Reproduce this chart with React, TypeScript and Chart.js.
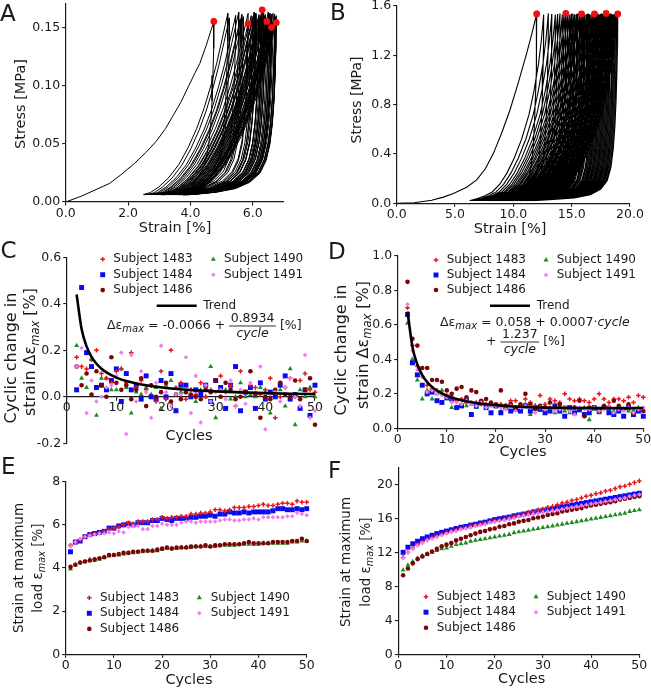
import React, { useEffect, useRef } from 'react';
import { Chart, registerables } from 'chart.js';

Chart.register(...registerables);

const W = 651;
const H = 689;
const FAM = '"DejaVu Sans", "Liberation Sans", sans-serif';
const INK = '#1a1a1a';

// ---------------- data ----------------
const cycles50 = [1, 2, 3, 4, 5, 6, 7, 8, 9, 10, 11, 12, 13, 14, 15, 16, 17, 18, 19, 20, 21, 22, 23, 24, 25, 26, 27, 28, 29, 30, 31, 32, 33, 34, 35, 36, 37, 38, 39, 40, 41, 42, 43, 44, 45, 46, 47, 48, 49, 50];
const cycles49 = [2, 3, 4, 5, 6, 7, 8, 9, 10, 11, 12, 13, 14, 15, 16, 17, 18, 19, 20, 21, 22, 23, 24, 25, 26, 27, 28, 29, 30, 31, 32, 33, 34, 35, 36, 37, 38, 39, 40, 41, 42, 43, 44, 45, 46, 47, 48, 49, 50];

// Panel C: cyclic change in strain
const c1483 = [0.17, 0.13, 0.12, 0.16, 0.20, 0.10, 0.08, 0.06, 0.11, 0.12, 0.06, 0.19, 0.04, 0.07, 0.03, 0.05, -0.02, 0.11, -0.01, 0.20, 0.04, 0.06, -0.01, 0.03, 0.01, 0.06, 0.00, 0.03, 0.07, 0.09, 0.02, 0.05, -0.04, 0.11, 0.02, 0.05, 0.04, 0.01, 0.03, 0.08, -0.09, 0.00, 0.04, 0.08, 0.00, 0.07, 0.10, 0.03, 0.02];
const c1484 = [0.03, 0.47, 0.19, 0.13, 0.04, 0.05, 0.03, 0.07, 0.12, -0.02, 0.10, 0.03, 0.05, -0.01, 0.09, 0.00, -0.01, 0.07, 0.00, 0.10, -0.06, 0.05, 0.05, 0.00, 0.03, 0.01, 0.05, -0.02, 0.07, 0.04, -0.05, 0.05, 0.13, -0.06, 0.02, 0.04, -0.05, 0.06, -0.01, 0.02, 0.00, 0.05, 0.09, -0.01, 0.01, -0.05, 0.03, -0.08, 0.05];
const c1486 = [0.13, 0.05, 0.10, 0.01, 0.11, 0.05, 0.00, 0.17, 0.06, 0.03, 0.05, -0.01, 0.03, 0.08, -0.04, 0.05, 0.00, 0.02, 0.06, -0.02, 0.01, -0.01, 0.02, 0.01, 0.00, -0.01, 0.03, 0.02, 0.07, 0.00, 0.06, 0.03, -0.01, 0.00, 0.02, 0.11, 0.01, -0.09, 0.00, -0.01, 0.03, 0.06, 0.01, 0.00, 0.07, -0.01, 0.03, 0.08, -0.12];
const c1490 = [0.22, 0.08, 0.04, 0.16, -0.08, 0.08, 0.08, 0.03, 0.03, 0.12, 0.04, -0.07, 0.02, 0.01, 0.04, 0.01, 0.04, -0.05, 0.05, 0.07, -0.06, 0.02, 0.02, 0.03, -0.02, 0.03, 0.00, 0.13, -0.09, 0.00, 0.03, -0.01, 0.00, 0.06, 0.00, 0.01, 0.00, 0.04, 0.02, -0.07, 0.02, 0.03, -0.04, 0.12, -0.12, 0.03, 0.00, 0.04, 0.00];
const c1491 = [0.13, 0.21, -0.07, 0.07, -0.02, 0.00, 0.04, 0.05, 0.09, 0.19, -0.16, 0.18, -0.02, 0.11, 0.02, -0.09, 0.06, 0.22, 0.02, -0.04, 0.01, 0.01, 0.17, -0.07, 0.09, -0.11, 0.05, -0.02, 0.02, 0.03, -0.01, 0.07, -0.04, 0.03, -0.03, 0.06, 0.02, 0.13, -0.14, 0.01, 0.02, -0.02, 0.04, 0.08, 0.00, -0.04, 0.18, -0.09, -0.06];
const cTrendX = [2, 3, 4, 5, 6, 7, 8, 10, 12, 15, 20, 25, 30, 35, 40, 45, 50];
const cTrendY = [0.4401, 0.2912, 0.2168, 0.1721, 0.1423, 0.1210, 0.1051, 0.0827, 0.0679, 0.0530, 0.0381, 0.0291, 0.0232, 0.0189, 0.0157, 0.0133, 0.0113];

// Panel D
const d1483 = [0.70, 0.48, 0.36, 0.30, 0.25, 0.23, 0.22, 0.20, 0.19, 0.17, 0.16, 0.17, 0.15, 0.15, 0.15, 0.14, 0.14, 0.14, 0.13, 0.14, 0.13, 0.16, 0.16, 0.13, 0.17, 0.15, 0.13, 0.19, 0.14, 0.17, 0.16, 0.15, 0.20, 0.17, 0.16, 0.17, 0.16, 0.15, 0.17, 0.20, 0.17, 0.15, 0.17, 0.17, 0.16, 0.18, 0.15, 0.19, 0.18];
const d1484 = [0.66, 0.38, 0.31, 0.25, 0.20, 0.21, 0.16, 0.15, 0.18, 0.17, 0.12, 0.13, 0.16, 0.08, 0.13, 0.15, 0.12, 0.09, 0.13, 0.09, 0.12, 0.10, 0.11, 0.10, 0.13, 0.10, 0.12, 0.11, 0.09, 0.10, 0.13, 0.10, 0.07, 0.12, 0.09, 0.11, 0.08, 0.09, 0.12, 0.10, 0.12, 0.09, 0.08, 0.10, 0.07, 0.12, 0.08, 0.10, 0.07];
const d1486 = [0.85, 0.52, 0.48, 0.35, 0.35, 0.28, 0.28, 0.27, 0.22, 0.20, 0.23, 0.24, 0.18, 0.22, 0.21, 0.16, 0.17, 0.15, 0.14, 0.22, 0.13, 0.14, 0.12, 0.14, 0.20, 0.14, 0.11, 0.13, 0.12, 0.15, 0.12, 0.14, 0.12, 0.11, 0.12, 0.16, 0.07, 0.12, 0.12, 0.10, 0.13, 0.12, 0.16, 0.13, 0.11, 0.14, 0.09, 0.11, 0.10];
const d1490 = [0.61, 0.40, 0.28, 0.17, 0.22, 0.17, 0.20, 0.22, 0.17, 0.12, 0.12, 0.14, 0.13, 0.14, 0.12, 0.14, 0.14, 0.13, 0.13, 0.10, 0.13, 0.15, 0.12, 0.11, 0.14, 0.08, 0.13, 0.11, 0.12, 0.12, 0.09, 0.13, 0.10, 0.09, 0.12, 0.10, 0.12, 0.05, 0.11, 0.09, 0.12, 0.11, 0.10, 0.12, 0.11, 0.10, 0.11, 0.12, 0.10];
const d1491 = [0.72, 0.45, 0.34, 0.30, 0.21, 0.22, 0.20, 0.19, 0.18, 0.15, 0.15, 0.14, 0.16, 0.14, 0.13, 0.15, 0.12, 0.13, 0.13, 0.12, 0.11, 0.13, 0.10, 0.12, 0.13, 0.12, 0.09, 0.12, 0.11, 0.12, 0.10, 0.11, 0.12, 0.10, 0.08, 0.12, 0.11, 0.11, 0.12, 0.10, 0.11, 0.12, 0.09, 0.11, 0.10, 0.12, 0.09, 0.11, 0.12];
const dTrendX = [2, 3, 4, 5, 6, 7, 8, 10, 12, 15, 20, 25, 30, 35, 40, 45, 50];
const dTrendY = [0.6779, 0.4724, 0.3701, 0.3089, 0.2684, 0.2396, 0.2182, 0.1887, 0.1695, 0.1510, 0.1339, 0.1250, 0.1202, 0.1178, 0.1169, 0.1170, 0.1177];

// Panel E: strain at maximum load
const e1483 = [5.05, 5.2, 5.3, 5.45, 5.55, 5.6, 5.65, 5.7, 5.8, 5.85, 5.9, 6.0, 6.1, 6.05, 6.15, 6.15, 6.15, 6.25, 6.25, 6.35, 6.3, 6.35, 6.35, 6.4, 6.4, 6.5, 6.5, 6.55, 6.55, 6.6, 6.7, 6.7, 6.65, 6.7, 6.8, 6.8, 6.8, 6.85, 6.85, 6.9, 6.95, 6.9, 6.9, 6.95, 7.0, 7.0, 6.95, 7.1, 7.05, 7.05];
const e1484 = [4.75, 5.2, 5.25, 5.45, 5.55, 5.6, 5.65, 5.7, 5.85, 5.85, 5.95, 6.0, 6.05, 6.0, 6.1, 6.1, 6.1, 6.2, 6.2, 6.3, 6.25, 6.2, 6.3, 6.3, 6.3, 6.35, 6.35, 6.4, 6.4, 6.45, 6.4, 6.5, 6.5, 6.6, 6.55, 6.55, 6.6, 6.55, 6.6, 6.6, 6.6, 6.6, 6.65, 6.75, 6.75, 6.7, 6.7, 6.75, 6.7, 6.75];
const e1486 = [4.05, 4.15, 4.25, 4.3, 4.35, 4.4, 4.45, 4.5, 4.6, 4.6, 4.65, 4.7, 4.7, 4.75, 4.75, 4.8, 4.8, 4.8, 4.85, 4.9, 4.95, 4.9, 4.95, 4.95, 4.95, 5.0, 5.0, 5.0, 5.05, 5.0, 5.05, 5.05, 5.1, 5.1, 5.1, 5.1, 5.15, 5.2, 5.15, 5.15, 5.15, 5.15, 5.2, 5.2, 5.2, 5.2, 5.25, 5.25, 5.35, 5.25];
const e1490 = [3.95, 4.15, 4.25, 4.3, 4.4, 4.35, 4.4, 4.5, 4.55, 4.6, 4.6, 4.65, 4.7, 4.7, 4.75, 4.75, 4.8, 4.8, 4.8, 4.85, 4.9, 4.9, 4.9, 4.95, 4.95, 4.95, 5.0, 5.0, 5.0, 5.0, 5.0, 5.05, 5.05, 5.05, 5.05, 5.1, 5.1, 5.1, 5.1, 5.1, 5.15, 5.15, 5.15, 5.15, 5.15, 5.15, 5.2, 5.2, 5.25, 5.25];
const e1491 = [5.0, 5.2, 5.35, 5.45, 5.5, 5.55, 5.6, 5.6, 5.65, 5.6, 5.7, 5.65, 5.9, 5.95, 5.95, 5.8, 5.8, 5.95, 5.95, 6.05, 6.0, 6.0, 6.0, 6.1, 6.15, 6.15, 6.1, 6.15, 6.15, 6.15, 6.15, 6.2, 6.25, 6.25, 6.2, 6.2, 6.25, 6.25, 6.3, 6.25, 6.35, 6.35, 6.35, 6.35, 6.35, 6.4, 6.4, 6.55, 6.5, 6.45];

// Panel F
const f1483 = [11.4, 12.0, 12.5, 12.9, 13.2, 13.5, 13.7, 13.9, 14.1, 14.3, 14.5, 14.6, 14.8, 14.9, 15.1, 15.2, 15.3, 15.4, 15.6, 15.7, 15.8, 15.9, 16.1, 16.2, 16.3, 16.5, 16.7, 16.8, 17.0, 17.1, 17.3, 17.4, 17.6, 17.8, 17.9, 18.1, 18.2, 18.4, 18.6, 18.7, 18.9, 19.0, 19.2, 19.3, 19.5, 19.7, 19.8, 20.0, 20.2, 20.4];
const f1484 = [12.0, 12.6, 13.0, 13.3, 13.6, 13.8, 14.0, 14.2, 14.35, 14.5, 14.65, 14.8, 14.95, 15.05, 15.2, 15.3, 15.45, 15.55, 15.7, 15.85, 15.95, 16.05, 16.15, 16.3, 16.4, 16.5, 16.6, 16.75, 16.85, 16.95, 17.05, 17.15, 17.25, 17.35, 17.45, 17.55, 17.65, 17.75, 17.85, 17.95, 18.05, 18.15, 18.25, 18.35, 18.45, 18.55, 18.65, 18.75, 18.85, 18.95];
const f1486 = [9.3, 10.1, 10.7, 11.2, 11.5, 11.8, 12.1, 12.4, 12.7, 12.9, 13.1, 13.4, 13.6, 13.8, 14.0, 14.2, 14.4, 14.5, 14.7, 14.8, 15.0, 15.1, 15.3, 15.4, 15.6, 15.7, 15.8, 16.0, 16.1, 16.2, 16.4, 16.5, 16.6, 16.8, 16.9, 17.0, 17.1, 17.2, 17.4, 17.5, 17.6, 17.7, 17.8, 17.9, 18.0, 18.2, 18.3, 18.4, 18.5, 18.6];
const f1490 = [9.9, 10.5, 10.9, 11.3, 11.6, 11.8, 12.0, 12.2, 12.4, 12.5, 12.7, 12.9, 13.0, 13.1, 13.3, 13.4, 13.5, 13.6, 13.7, 13.8, 13.9, 14.0, 14.1, 14.3, 14.4, 14.5, 14.6, 14.7, 14.8, 14.9, 15.0, 15.1, 15.2, 15.3, 15.4, 15.5, 15.6, 15.7, 15.8, 15.9, 16.0, 16.1, 16.2, 16.3, 16.4, 16.5, 16.6, 16.8, 16.9, 17.0];
const f1491 = [11.3, 12.0, 12.4, 12.8, 13.1, 13.4, 13.6, 13.8, 14.0, 14.2, 14.4, 14.5, 14.7, 14.8, 14.9, 15.1, 15.2, 15.3, 15.5, 15.6, 15.7, 15.8, 15.9, 16.0, 16.2, 16.3, 16.4, 16.5, 16.6, 16.7, 16.8, 16.9, 17.0, 17.1, 17.2, 17.3, 17.4, 17.5, 17.6, 17.7, 17.8, 17.9, 18.0, 18.1, 18.2, 18.3, 18.4, 18.6, 18.7, 18.8];

// Panel A: stress-strain loops (subject 1484, peaks = e1484)
const aFirstStrain = [0, 0.5, 1.0, 1.41, 1.8, 2.2, 2.59, 2.9, 3.2, 3.44, 3.7, 3.95, 4.15, 4.3, 4.5, 4.75];
const aFirstStress = [0, 0.005, 0.011, 0.016, 0.024, 0.033, 0.043, 0.052, 0.063, 0.074, 0.086, 0.1, 0.111, 0.119, 0.134, 0.155];
const aPeakStress = [0.155, 0.162, 0.158, 0.160, 0.163, 0.157, 0.161, 0.159, 0.162, 0.153, 0.160, 0.158, 0.163, 0.159, 0.161, 0.157, 0.162, 0.160, 0.158, 0.165, 0.159, 0.161, 0.157, 0.163, 0.160, 0.158, 0.162, 0.159, 0.161, 0.155, 0.160, 0.163, 0.158, 0.161, 0.159, 0.162, 0.157, 0.160, 0.158, 0.150, 0.161, 0.159, 0.162, 0.158, 0.160, 0.157, 0.161, 0.159, 0.160, 0.154];
const aBottom = [2.50, 2.62, 2.72, 2.80, 2.86, 2.92, 2.97, 3.02, 3.07, 3.10, 3.14, 3.18, 3.22, 3.24, 3.28, 3.30, 3.32, 3.36, 3.38, 3.42, 3.43, 3.44, 3.48, 3.50, 3.52, 3.55, 3.56, 3.59, 3.60, 3.63, 3.63, 3.66, 3.68, 3.71, 3.71, 3.72, 3.75, 3.75, 3.77, 3.78, 3.79, 3.80, 3.82, 3.86, 3.87, 3.86, 3.87, 3.90, 3.89, 3.92];
const aLoadU = [0, 0.08, 0.18, 0.3, 0.42, 0.53, 0.63, 0.72, 0.8, 0.87, 0.93, 0.97, 1];
const aLoadV = [0.04, 0.05, 0.08, 0.13, 0.2, 0.29, 0.39, 0.5, 0.62, 0.74, 0.86, 0.94, 1];
const aUnloadU = [1, 0.996, 0.987, 0.975, 0.955, 0.928, 0.885, 0.815, 0.7, 0.54, 0.33, 0.13, 0];
const aUnloadV = [1, 0.85, 0.7, 0.56, 0.43, 0.32, 0.23, 0.16, 0.11, 0.075, 0.055, 0.045, 0.04];

// Panel B: stress-strain loops (subject 1484, peaks = f1484)
const bFirstStrain = [0, 1.5, 3.0, 4.0, 4.86, 6.0, 6.86, 7.6, 8.29, 9.0, 9.71, 10.4, 11.14, 11.6, 12.0];
const bFirstStress = [0, 0.005, 0.025, 0.05, 0.08, 0.13, 0.19, 0.28, 0.405, 0.57, 0.757, 0.97, 1.216, 1.38, 1.535];
const bPeakStress = [1.535, 1.53, 1.54, 1.535, 1.53, 1.535, 1.54, 1.53, 1.535, 1.54, 1.535, 1.53, 1.535, 1.54, 1.535, 1.53, 1.535, 1.54, 1.53, 1.535, 1.54, 1.535, 1.53, 1.535, 1.54, 1.535, 1.53, 1.535, 1.54, 1.535, 1.53, 1.535, 1.54, 1.53, 1.535, 1.54, 1.535, 1.53, 1.535, 1.54, 1.535, 1.53, 1.535, 1.54, 1.535, 1.53, 1.535, 1.54, 1.53, 1.535];
const bBottom = [6.3, 6.6, 6.85, 7.05, 7.25, 7.4, 7.55, 7.7, 7.85, 7.95, 8.1, 8.2, 8.35, 8.45, 8.55, 8.65, 8.75, 8.85, 8.95, 9.05, 9.15, 9.25, 9.35, 9.45, 9.55, 9.65, 9.75, 9.85, 9.95, 10.05, 10.15, 10.25, 10.35, 10.45, 10.55, 10.65, 10.75, 10.85, 10.95, 11.05, 11.15, 11.25, 11.35, 11.45, 11.55, 11.65, 11.75, 11.85, 11.95, 12.05];
const bLoadU = [0, 0.1, 0.2, 0.3, 0.4, 0.5, 0.6, 0.7, 0.8, 0.87, 0.93, 0.97, 1];
const bLoadV = [0.015, 0.025, 0.04, 0.06, 0.1, 0.16, 0.24, 0.34, 0.47, 0.6, 0.74, 0.87, 1];
const bUnloadU = [1, 0.997, 0.99, 0.98, 0.965, 0.945, 0.915, 0.87, 0.79, 0.66, 0.46, 0.2, 0];
const bUnloadV = [1, 0.85, 0.7, 0.55, 0.41, 0.29, 0.19, 0.12, 0.075, 0.045, 0.028, 0.02, 0.015];

const markedCycles = [1, 10, 20, 30, 40, 50];

// ---------------- styles ----------------
type Marker = { style: string; radius: number; color: string; bw: number };
const M1483: Marker = { style: 'cross', radius: 2.3, color: '#e8161c', bw: 1.5 };
const M1484: Marker = { style: 'rect', radius: 3.5, color: '#0a0af0', bw: 0 };
const M1486: Marker = { style: 'circle', radius: 2.3, color: '#7a0505', bw: 0 };
const M1490: Marker = { style: 'triangle', radius: 2.9, color: '#1f8a1f', bw: 0 };
const M1491: Marker = { style: 'rectRot', radius: 2.3, color: '#f07cf0', bw: 0 };

const LEG_SIZE = 12;
const EQ_SIZE = 12.5;

type Area = { l: number; t: number; r: number; b: number };
type AxisSpec = { min: number; max: number; step: number; dec: number; atZero?: boolean };
type Seg = { t: string; it?: boolean; sub?: boolean };

function drawMarker(ctx: CanvasRenderingContext2D, m: Marker, x: number, y: number) {
  ctx.save();
  ctx.fillStyle = m.color;
  ctx.strokeStyle = m.color;
  const r = m.radius;
  ctx.beginPath();
  if (m.style === 'cross') {
    ctx.lineWidth = m.bw;
    ctx.moveTo(x - r, y); ctx.lineTo(x + r, y);
    ctx.moveTo(x, y - r); ctx.lineTo(x, y + r);
    ctx.stroke();
  } else if (m.style === 'rect') {
    const s = r * Math.SQRT1_2;
    ctx.fillRect(x - s, y - s, 2 * s, 2 * s);
  } else if (m.style === 'circle') {
    ctx.arc(x, y, r, 0, Math.PI * 2); ctx.fill();
  } else if (m.style === 'triangle') {
    ctx.moveTo(x, y - r); ctx.lineTo(x + r * 0.866, y + r * 0.5); ctx.lineTo(x - r * 0.866, y + r * 0.5);
    ctx.closePath(); ctx.fill();
  } else {
    ctx.moveTo(x, y - r); ctx.lineTo(x + r, y); ctx.lineTo(x, y + r); ctx.lineTo(x - r, y);
    ctx.closePath(); ctx.fill();
  }
  ctx.restore();
}

function segFont(s: Seg, size: number, subScale: number) {
  return `${s.it ? 'italic ' : ''}${s.sub ? size * subScale : size}px ${FAM}`;
}
function richWidth(ctx: CanvasRenderingContext2D, segs: Seg[], size: number, subScale: number) {
  let w = 0;
  for (const s of segs) { ctx.font = segFont(s, size, subScale); w += ctx.measureText(s.t).width; }
  return w;
}
function rich(ctx: CanvasRenderingContext2D, segs: Seg[], x: number, y: number, size: number, align = 'center', rot = 0, subScale = 0.72) {
  ctx.save();
  ctx.translate(x, y);
  if (rot) ctx.rotate(rot);
  const total = richWidth(ctx, segs, size, subScale);
  let cx = align === 'center' ? -total / 2 : align === 'right' ? -total : 0;
  ctx.fillStyle = INK;
  ctx.textBaseline = 'middle';
  ctx.textAlign = 'left';
  for (const s of segs) {
    ctx.font = segFont(s, size, subScale);
    ctx.fillText(s.t, cx, s.sub ? size * 0.3 : 0);
    cx += ctx.measureText(s.t).width;
  }
  ctx.restore();
  return total;
}
function frac(ctx: CanvasRenderingContext2D, x: number, yBar: number, num: string, den: string, size: number) {
  ctx.save();
  ctx.font = `${size}px ${FAM}`;
  const nw = ctx.measureText(num).width;
  ctx.font = `italic ${size}px ${FAM}`;
  const dw = ctx.measureText(den).width;
  const w = Math.max(nw, dw) + 3;
  ctx.restore();
  rich(ctx, [{ t: num }], x + w / 2, yBar - 0.55 * size, size, 'center');
  rich(ctx, [{ t: den, it: true }], x + w / 2, yBar + 0.6 * size, size, 'center');
  ctx.save();
  ctx.strokeStyle = INK;
  ctx.lineWidth = 0.9;
  ctx.beginPath(); ctx.moveTo(x, yBar); ctx.lineTo(x + w, yBar); ctx.stroke();
  ctx.restore();
  return w;
}

type LegendItem = { m: Marker | null; label: string; mx: number; tx: number; y: number };
function legend(ctx: CanvasRenderingContext2D, items: LegendItem[]) {
  for (const it of items) {
    if (it.m) drawMarker(ctx, it.m, it.mx, it.y);
    else {
      ctx.save(); ctx.strokeStyle = '#000'; ctx.lineWidth = 2.5;
      ctx.beginPath(); ctx.moveTo(it.mx, it.y); ctx.lineTo(it.mx + 40, it.y); ctx.stroke(); ctx.restore();
    }
    rich(ctx, [{ t: it.label }], it.tx, it.y, LEG_SIZE, 'left');
  }
}
function subjectLegend(x1: number, t1: number, x2: number, t2: number, y0: number, dy: number): LegendItem[] {
  return [
    { m: M1483, label: 'Subject 1483', mx: x1, tx: t1, y: y0 },
    { m: M1484, label: 'Subject 1484', mx: x1, tx: t1, y: y0 + dy },
    { m: M1486, label: 'Subject 1486', mx: x1, tx: t1, y: y0 + 2 * dy },
    { m: M1490, label: 'Subject 1490', mx: x2, tx: t2, y: y0 },
    { m: M1491, label: 'Subject 1491', mx: x2, tx: t2, y: y0 + dy },
  ];
}

function axisOpts(axis: 'x' | 'y', spec: AxisSpec, area: Area) {
  const o: any = {
    type: 'linear',
    min: spec.min,
    max: spec.max,
    grid: { display: true, drawOnChartArea: false, drawTicks: true, tickLength: 3.5, color: INK, lineWidth: 1.1 },
    border: { display: true, color: INK, width: 1.2 },
    ticks: {
      stepSize: spec.step,
      includeBounds: false,
      autoSkip: false,
      maxRotation: 0,
      padding: axis === 'x' ? 1.5 : 2,
      color: INK,
      font: { family: FAM, size: 12.5, lineHeight: 1 },
      callback: (v: number) => (Math.abs(v) < 1e-9 ? 0 : v).toFixed(spec.dec),
    },
    afterFit: (s: any) => {
      if (axis === 'y') s.width = area.l;
      else if (!spec.atZero) s.height = H - area.b;
      s.paddingTop = 0; s.paddingBottom = 0; s.paddingLeft = 0; s.paddingRight = 0;
    },
  };
  if (axis === 'x') o.position = spec.atZero ? { y: 0 } : 'bottom';
  else o.position = 'left';
  return o;
}

function pts(xs: number[], ys: number[]) {
  return xs.map((x, i) => ({ x, y: ys[i] }));
}
function scatterDs(xs: number[], ys: number[], m: Marker) {
  return {
    data: pts(xs, ys),
    pointStyle: m.style,
    pointRadius: m.radius,
    backgroundColor: m.color,
    borderColor: m.color,
    pointBorderWidth: m.style === 'cross' ? m.bw : 0,
    showLine: false,
    clip: false,
  };
}
function trendDs(xs: number[], ys: number[]) {
  return {
    data: pts(xs, ys), showLine: true, pointRadius: 0, borderColor: '#000', borderWidth: 2.6,
    cubicInterpolationMode: 'monotone', clip: false,
  };
}
function loopPath(firstX: number[], firstY: number[], peaks: number[], peakS: number[], bottoms: number[],
  lu: number[], lv: number[], uu: number[], uv: number[]) {
  const out = pts(firstX, firstY);
  for (let i = 0; i < peaks.length; i++) {
    if (i > 0) {
      const b = bottoms[i - 1], p = peaks[i], s = peakS[i];
      for (let k = 0; k < lu.length; k++) out.push({ x: b + lu[k] * (p - b), y: lv[k] * s });
    }
    const b = bottoms[i], p = peaks[i], s = peakS[i];
    for (let k = 0; k < uu.length; k++) out.push({ x: b + uu[k] * (p - b), y: uv[k] * s });
  }
  return out;
}
function loopDs(data: { x: number; y: number }[], width: number) {
  return { data, showLine: true, pointRadius: 0, borderColor: '#000', borderWidth: width, tension: 0 };
}
function dotsDs(peaks: number[], peakS: number[]) {
  return {
    data: markedCycles.map((c) => ({ x: peaks[c - 1], y: peakS[c - 1] })),
    pointStyle: 'circle', pointRadius: 3.4, backgroundColor: '#f01010', pointBorderWidth: 0, showLine: false, clip: false,
  };
}

function makeChart(canvas: HTMLCanvasElement, area: Area, xs: AxisSpec, ys: AxisSpec, datasets: any[], draw: (ctx: CanvasRenderingContext2D) => void) {
  return new Chart(canvas, {
    type: 'scatter',
    data: { datasets },
    options: {
      animation: false,
      responsive: false,
      devicePixelRatio: 1,
      events: [],
      layout: { padding: { left: 0, top: area.t, right: W - area.r, bottom: xs.atZero ? H - area.b : 0 } },
      scales: { x: axisOpts('x', xs, area), y: axisOpts('y', ys, area) },
      plugins: { legend: { display: false }, tooltip: { enabled: false } },
    } as any,
    plugins: [{ id: 'txt', afterDraw: (c: any) => { const ctx = c.ctx; ctx.save(); draw(ctx); ctx.restore(); } }],
  } as any);
}

const UP = -Math.PI / 2;
const deltaEps: Seg[] = [{ t: 'strain Δε' }, { t: 'max', it: true, sub: true }, { t: ' [%]' }];
const loadEps: Seg[] = [{ t: 'load ε' }, { t: 'max', it: true, sub: true }, { t: ' [%]' }];

export default function App() {
  const refs = [useRef<HTMLCanvasElement>(null), useRef<HTMLCanvasElement>(null), useRef<HTMLCanvasElement>(null),
    useRef<HTMLCanvasElement>(null), useRef<HTMLCanvasElement>(null), useRef<HTMLCanvasElement>(null)];

  useEffect(() => {
    const charts: Chart[] = [];
    const subjSets = (x: number[], a: number[], b: number[], c: number[], d: number[], e: number[]) => [
      scatterDs(x, e, M1491), scatterDs(x, c, M1486), scatterDs(x, a, M1483), scatterDs(x, b, M1484), scatterDs(x, d, M1490),
    ];

    // A
    charts.push(makeChart(refs[0].current!, { l: 65.7, t: 1.4, r: 284, b: 202 },
      { min: 0, max: 7, step: 2, dec: 1 }, { min: 0, max: 0.17, step: 0.05, dec: 2 },
      [dotsDs(e1484, aPeakStress),
        loopDs(loopPath(aFirstStrain, aFirstStress, e1484, aPeakStress, aBottom, aLoadU, aLoadV, aUnloadU, aUnloadV), 1.0)],
      (ctx) => {
        rich(ctx, [{ t: 'A' }], 0, 15, 23, 'left');
        rich(ctx, [{ t: 'Strain [%]' }], 175, 228, 14.5);
        rich(ctx, [{ t: 'Stress [MPa]' }], 21.5, 104, 14.5, 'center', UP);
      }));

    // B
    charts.push(makeChart(refs[1].current!, { l: 396.7, t: 6, r: 630, b: 203.3 },
      { min: 0, max: 20, step: 5, dec: 1 }, { min: 0, max: 1.6, step: 0.4, dec: 1 },
      [dotsDs(f1484, bPeakStress),
        loopDs(loopPath(bFirstStrain, bFirstStress, f1484, bPeakStress, bBottom, bLoadU, bLoadV, bUnloadU, bUnloadV), 1.1)],
      (ctx) => {
        rich(ctx, [{ t: 'B' }], 330, 14, 23, 'left');
        rich(ctx, [{ t: 'Strain [%]' }], 510, 229, 14.5);
        rich(ctx, [{ t: 'Stress [MPa]' }], 357.5, 100, 14, 'center', UP);
      }));

    // C
    charts.push(makeChart(refs[2].current!, { l: 66.7, t: 257.3, r: 315, b: 443.3 },
      { min: 0, max: 50, step: 10, dec: 0, atZero: true }, { min: -0.2, max: 0.6, step: 0.2, dec: 1 },
      [trendDs(cTrendX, cTrendY), ...subjSets(cycles49, c1483, c1484, c1486, c1490, c1491)],
      (ctx) => {
        rich(ctx, [{ t: 'C' }], 0.5, 252.5, 23, 'left');
        rich(ctx, [{ t: 'Cycles' }], 189, 436, 14.5);
        rich(ctx, [{ t: 'Cyclic change in' }], 12, 358, 16, 'center', UP);
        rich(ctx, deltaEps, 31, 352, 16, 'center', UP);
        legend(ctx, subjectLegend(102.7, 113.3, 213.3, 224, 259.3, 15.4));
        legend(ctx, [{ m: null, label: 'Trend', mx: 156.7, tx: 203.3, y: 305.7 }]);
        const x0 = 107, yb = 326;
        const w1 = rich(ctx, [{ t: 'Δε' }, { t: 'max', it: true, sub: true }, { t: ' = -0.0066 + ' }], x0, yb, EQ_SIZE, 'left', 0, 0.8);
        const w2 = frac(ctx, x0 + w1, yb, '0.8934', 'cycle', EQ_SIZE);
        rich(ctx, [{ t: ' [%]' }], x0 + w1 + w2, yb, EQ_SIZE, 'left');
      }));

    // D
    charts.push(makeChart(refs[3].current!, { l: 397.7, t: 256, r: 643.3, b: 428.3 },
      { min: 0, max: 50, step: 10, dec: 0 }, { min: 0, max: 1.0, step: 0.2, dec: 1 },
      [trendDs(dTrendX, dTrendY), ...subjSets(cycles49, d1483, d1484, d1486, d1490, d1491)],
      (ctx) => {
        rich(ctx, [{ t: 'D' }], 328, 253.5, 23, 'left');
        rich(ctx, [{ t: 'Cycles' }], 523, 452, 14.5);
        rich(ctx, [{ t: 'Cyclic change in' }], 341.5, 350, 16, 'center', UP);
        rich(ctx, deltaEps, 363.5, 345, 16, 'center', UP);
        legend(ctx, subjectLegend(436, 446.7, 546, 556.7, 260, 15));
        legend(ctx, [{ m: null, label: 'Trend', mx: 490, tx: 536.7, y: 305.7 }]);
        rich(ctx, [{ t: 'Δε' }, { t: 'max', it: true, sub: true }, { t: ' = 0.058 + 0.0007·' }, { t: 'cycle', it: true }], 440, 322.7, EQ_SIZE, 'left', 0, 0.8);
        const x0 = 486, yb = 342;
        const w1 = rich(ctx, [{ t: '+ ' }], x0, yb, EQ_SIZE, 'left');
        const w2 = frac(ctx, x0 + w1, yb, '1.237', 'cycle', EQ_SIZE);
        rich(ctx, [{ t: ' [%]' }], x0 + w1 + w2, yb, EQ_SIZE, 'left');
      }));

    // E
    charts.push(makeChart(refs[4].current!, { l: 65.7, t: 481.7, r: 306.7, b: 654.3 },
      { min: 0, max: 50, step: 10, dec: 0 }, { min: 0, max: 8, step: 2, dec: 0 },
      subjSets(cycles50, e1483, e1484, e1486, e1490, e1491),
      (ctx) => {
        rich(ctx, [{ t: 'E' }], 1, 468.5, 23, 'left');
        rich(ctx, [{ t: 'Cycles' }], 189, 680, 14.5);
        rich(ctx, [{ t: 'Strain at maximum' }], 19.5, 568, 13.5, 'center', UP);
        rich(ctx, loadEps, 38.5, 568, 13.5, 'center', UP);
        legend(ctx, subjectLegend(89.3, 100, 199.3, 210.7, 597.7, 15.6));
      }));

    // F
    charts.push(makeChart(refs[5].current!, { l: 398.3, t: 467.3, r: 639.3, b: 654.3 },
      { min: 0, max: 50, step: 10, dec: 0 }, { min: 0, max: 22, step: 4, dec: 0 },
      subjSets(cycles50, f1483, f1484, f1486, f1490, f1491),
      (ctx) => {
        rich(ctx, [{ t: 'F' }], 328, 472.5, 23, 'left');
        rich(ctx, [{ t: 'Cycles' }], 521.7, 679.5, 14.5);
        rich(ctx, [{ t: 'Strain at maximum' }], 346.5, 562, 13.5, 'center', UP);
        rich(ctx, loadEps, 366.5, 562, 13.5, 'center', UP);
        legend(ctx, subjectLegend(426, 436.7, 536, 546.7, 596.7, 15.5));
      }));

    return () => { charts.forEach((c) => c.destroy()); };
  }, []);

  return (
    <div style={{ position: 'absolute', left: 0, top: 0, width: W, height: H, background: '#fff', overflow: 'hidden' }}>
      {refs.map((r, i) => (
        <canvas key={i} ref={r} width={W} height={H} style={{ position: 'absolute', left: 0, top: 0 }} />
      ))}
    </div>
  );
}
